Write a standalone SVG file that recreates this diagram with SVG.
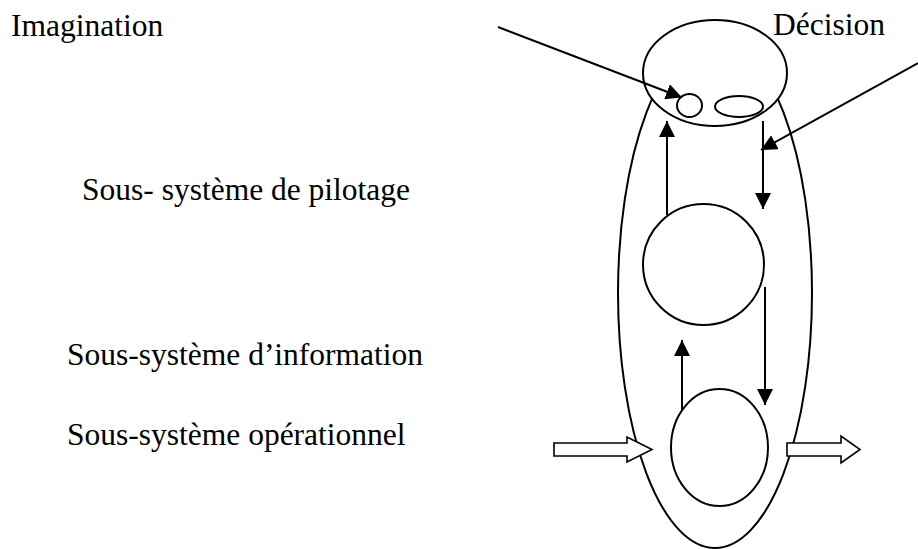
<svg xmlns="http://www.w3.org/2000/svg" width="918" height="549" viewBox="0 0 918 549">
<style>
.lbl{font-family:"Liberation Serif","Times New Roman",serif;font-size:31.5px;fill:#000}
.sh{fill:#fff;stroke:#000;stroke-width:2}
.ln{stroke:#000;stroke-width:2;fill:none}
.hol{fill:#fff;stroke:#000;stroke-width:1.6;stroke-linejoin:miter}
</style>
<defs>
<marker id="ah" markerUnits="userSpaceOnUse" markerWidth="16" markerHeight="16" viewBox="0 0 15 15" refX="15" refY="7.5" orient="auto">
<path d="M0,0 L15,7.5 L0,15 z" fill="#000"/>
</marker>
</defs>
<rect width="918" height="549" fill="#fff"/>
<g id="texts">
<text class="lbl" x="11" y="36">Imagination</text>
<text class="lbl" x="773" y="35">Décision</text>
<text class="lbl" x="82" y="200">Sous- système de pilotage</text>
<text class="lbl" x="67" y="365">Sous-système d’information</text>
<text class="lbl" x="67" y="445">Sous-système opérationnel</text>
</g>
<g id="systeme">
<ellipse class="sh" cx="715" cy="293" rx="97" ry="255"/>
</g>
<g id="pilotage">
<ellipse class="sh" cx="715" cy="73" rx="72" ry="53"/>
<ellipse class="sh" cx="689.5" cy="105.5" rx="12.5" ry="11.5"/>
<ellipse class="sh" cx="739" cy="106.5" rx="24" ry="10.5"/>
</g>
<g id="information">
<circle class="sh" cx="703.5" cy="264.5" r="60.5"/>
</g>
<g id="operationnel">
<ellipse class="sh" cx="719.5" cy="447.5" rx="48.5" ry="58.5"/>
</g>
<g id="connectors">
<line class="ln" x1="498" y1="27" x2="682" y2="97.5" marker-end="url(#ah)"/>
<line class="ln" x1="918" y1="63" x2="761" y2="150" marker-end="url(#ah)"/>
<line class="ln" x1="667" y1="215" x2="667" y2="121" marker-end="url(#ah)"/>
<line class="ln" x1="763" y1="121" x2="763" y2="209" marker-end="url(#ah)"/>
<line class="ln" x1="765" y1="287" x2="765" y2="405" marker-end="url(#ah)"/>
<line class="ln" x1="682" y1="410" x2="682" y2="340" marker-end="url(#ah)"/>
<polygon class="hol" points="554,443 627,443 627,437 652,449.5 627,462 627,456 554,456"/>
<polygon class="hol" points="787,443 841,443 841,436 860,449.5 841,463 841,456 787,456"/>
</g>
</svg>
